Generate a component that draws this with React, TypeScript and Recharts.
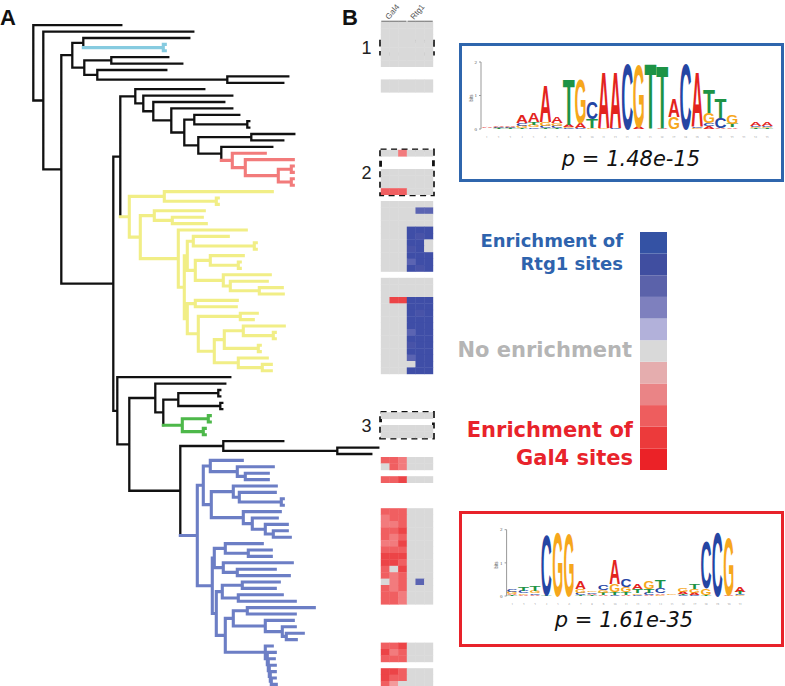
import React from "react";
import {
  LineChart,
  Line,
  XAxis,
  YAxis,
  ScatterChart,
  Scatter,
  ReferenceArea,
  ReferenceLine,
  BarChart,
  Bar,
} from "recharts";

// ---------- tree: Newick pieces, branch lengths, clade colour in the node label ----------
const cyanClade = "(:2,:2)cyan:80";
const topClade = `((:106,${cyanClade}):11,((:57,:71):27,(:69,(:61,:56):130):13):12):11`;
const redClade = "(:33,(:48,((:2,:2):13,(:2,:2):13):33):13)red:11";
const blackInner = `((:45,(:2,:2):53):10,((:43,:32):53,(:51,${redClade}):23):14):13`;
const blackClade = `(:69,(:89,(:71,(:61,${blackInner}):18):10):8):15`;
const yellowUpper = "((:35,(:2,:2):61):6,((:33,(:2,:2):28):15,(:47,(:37,(:23,:24):29):7):28):8):3";
const yellowLower = "((:42,:41):8,((:17,:13):42,(((:41,(:2,:2):30):19,(:2,:2):34):10,(:29,(:9,:9):24):24):16):11):3";
const yellowClade = `((:108,(:2,:2):52):35,((:50,(:30,:34):18):14,(:68,(${yellowUpper},${yellowLower}):6):38):11)yellow:9`;
const greenClade = "((:2,:2):26,(:2,:2):21)green:19";
const blueA = "((:32,(:36,(:23,:23):8):27):7,((:43,(:36,(:2,:2):42):6):22,(:37,(:25,(:22,(:14,:17):8):13):9):32):8):6";
const blueB1 = "((:37,(:23,:23):23):11,(:69,(:38,:52):14):9):2";
const blueB2 = "((:37,:33):20,(:44,:57):16):6";
const blueB3 = "((:67,:48):14,(:28,(:13,(:17,:10):4):17):32):8";
const blueComb = "(:7,(:8,(:6,(:6,(:5,(:4,:5):1):1):1):1):2):40";
const blueClade = `(${blueA},(${blueB1},(${blueB2},(${blueB3},${blueComb}):9):4):15)blue:17`;
const lowerClade = `(:113,((:70,(((:2,:2):40,(:2,:2):42):15,${greenClade}):8):26,((:60,(:41,:34):114):43,${blueClade}):51):12):4`;
const treeNewick = `(:88,(:150,(${topClade},((${blackClade},${yellowClade}):7,${lowerClade}):52):18):10);`;

const cladeColors: Record<string, string> = {
  black: "#111111",
  cyan: "#86cbe0",
  red: "#f27b7b",
  yellow: "#f1ee86",
  green: "#4db84a",
  blue: "#6c7ec5",
};

// ---------- heatmap: one string per leaf row, 3 Gal4 + 3 Rtg1 sub-columns ----------
const heatmapRows = [
  "gggggg", "gggggg", "gggggg", "gggggg", "gggggg", "gggggg", "gggggg", "......",
  "......", "gggggg", "gggggg", "......", "......", "......", "......", "......",
  "......", "......", "......", "......", "ggpggg", "......", "......", "gggggg",
  "gggggg", "gggggg", "rrrggg", "......", "gggggg", "ggggmm", "gggggg", "gggggg",
  "gggbbb", "gggbBb", "gggbbg", "gggBbg", "gggbbb", "gggmbb", "gggbBb", "......",
  "gggggg", "gggggg", "gggggg", "gRRbbb", "gggbbb", "gggbBb", "gggbbb", "gggbbb",
  "gggmbb", "gggbbb", "gggBbb", "gggbbb", "gggmbb", "ggggbb", "gggbbb", "......",
  "......", "......", "......", "......", "......", "gggggg", "......", "gggggg",
  "gggggg", "......", "......", "......", "rrpggg", "grpggg", "......", "rrRggg",
  "......", "......", "......", "......", "rrrggg", "prrggg", "pprggg", "rrRggg",
  "rprggg", "ppRggg", "rrrggg", "RRRggg", "RRrggg", "rgRggg", "rprggg", "gprgmg",
  "rprggg", "rrpggg", "rrpggg", "......", "......", "......", "......", "......",
  "......", "rrRggg", "Rprggg", "rrrggg", "......", "RRrggg", "Rrrggg", "rqgggg",
];
const cellColors: Record<string, string> = {
  g: "#d9d9d9",
  r: "#f05f61",
  R: "#ec4447",
  p: "#f27b7d",
  q: "#f39a9b",
  b: "#3f4ea7",
  B: "#4853a8",
  m: "#5b64b2",
};
const boxRows: [string, number, number][] = [
  ["1", 3, 4],
  ["2", 20, 26],
  ["3", 61, 64],
];

// ---------- colour scale (bottom to top) ----------
const scaleColors = [
  "#eb2227", "#ec3a3b", "#ee5d5e", "#ea8486", "#e5adae", "#d9d9d9",
  "#b2b1da", "#7e80be", "#5b62aa", "#404ea0", "#3452a4",
];

// ---------- motifs: letters per position, bottom to top, in bits ----------
const rtg1Motif: [string, number][][] = [
  [["C", 0.01], ["G", 0.01], ["A", 0.02]],
  [["T", 0.015], ["G", 0.02], ["C", 0.02], ["A", 0.02]],
  [["T", 0.015], ["G", 0.015], ["C", 0.02], ["A", 0.025]],
  [["T", 0.04], ["G", 0.06], ["C", 0.09], ["A", 0.22]],
  [["C", 0.05], ["G", 0.08], ["T", 0.09], ["A", 0.27]],
  [["T", 0.04], ["C", 0.06], ["G", 0.12], ["A", 1.1]],
  [["T", 0.04], ["C", 0.06], ["G", 0.08], ["A", 0.19]],
  [["C", 0.02], ["G", 0.03], ["A", 0.07], ["T", 1.4]],
  [["C", 0.02], ["A", 0.15], ["G", 1.35]],
  [["G", 0.03], ["T", 0.27], ["C", 0.5]],
  [["G", 0.02], ["A", 1.7]],
  [["C", 0.02], ["A", 1.7]],
  [["C", 2.0]],
  [["A", 0.06], ["G", 1.9]],
  [["T", 2.0]],
  [["A", 0.02], ["T", 1.9]],
  [["G", 0.37], ["A", 0.55]],
  [["C", 1.97]],
  [["G", 0.02], ["C", 0.05], ["A", 1.65]],
  [["A", 0.08], ["C", 0.09], ["G", 0.3], ["T", 0.7]],
  [["A", 0.03], ["C", 0.3], ["T", 0.6]],
  [["A", 0.05], ["T", 0.1], ["G", 0.29]],
  [["G", 0.01], ["A", 0.01]],
  [["T", 0.02], ["G", 0.03], ["C", 0.05], ["A", 0.1]],
  [["T", 0.02], ["G", 0.03], ["C", 0.05], ["A", 0.12]],
];
const gal4Motif: [string, number][][] = [
  [["T", 0.03], ["A", 0.04], ["G", 0.06], ["C", 0.08]],
  [["A", 0.03], ["G", 0.05], ["C", 0.08], ["T", 0.13]],
  [["A", 0.03], ["C", 0.05], ["G", 0.08], ["T", 0.14]],
  [["T", 0.02], ["C", 1.85]],
  [["G", 1.95]],
  [["G", 1.93]],
  [["T", 0.04], ["C", 0.06], ["G", 0.12], ["A", 0.25]],
  [["T", 0.03], ["A", 0.04], ["C", 0.05], ["G", 0.05]],
  [["A", 0.04], ["T", 0.06], ["G", 0.08], ["C", 0.15]],
  [["C", 0.04], ["T", 0.08], ["G", 0.25], ["A", 0.75]],
  [["A", 0.04], ["T", 0.08], ["G", 0.15], ["C", 0.22]],
  [["C", 0.04], ["G", 0.05], ["T", 0.12], ["A", 0.15]],
  [["A", 0.04], ["C", 0.06], ["T", 0.12], ["G", 0.25]],
  [["G", 0.04], ["A", 0.05], ["C", 0.15], ["T", 0.25]],
  [["C", 0.01], ["T", 0.01], ["A", 0.01], ["G", 0.02]],
  [["C", 0.03], ["T", 0.04], ["A", 0.06], ["G", 0.13]],
  [["C", 0.04], ["A", 0.06], ["G", 0.12], ["T", 0.16]],
  [["T", 0.03], ["G", 0.2], ["C", 1.45]],
  [["C", 1.98]],
  [["A", 0.03], ["G", 1.75]],
  [["G", 0.03], ["C", 0.04], ["T", 0.06], ["A", 0.14]],
];
const letterColors: Record<string, string> = { A: "#e3241e", C: "#2545a3", G: "#f6a71c", T: "#1d9345" };

// ---------- geometry ----------
const ROW0 = 25.2; // centre of first leaf row, px
const ROW_H = 6.4;
const PAGE_H = 686;
const rowDomain: [number, number] = [-ROW0 / ROW_H, (PAGE_H - ROW0) / ROW_H];
const HM_X0 = 381;
const COL_W = 52 / 6;
const HM_LEFT = 355;
const HM_W = 86;

const SANS = "'Liberation Sans', Arial, sans-serif";
const DEJA = "'DejaVu Sans', sans-serif";

type TNode = { children: TNode[]; len: number; label: string; depth: number; y: number; color: string };

function parseNewick(s: string): TNode {
  let i = 0;
  const read = (): TNode => {
    const n: TNode = { children: [], len: 0, label: "", depth: 0, y: 0, color: "black" };
    if (s[i] === "(") {
      i++;
      n.children.push(read());
      while (s[i] === ",") {
        i++;
        n.children.push(read());
      }
      i++;
    }
    while (i < s.length && /[a-z]/i.test(s[i])) n.label += s[i++];
    if (s[i] === ":") {
      i++;
      let num = "";
      while (i < s.length && /[0-9.]/.test(s[i])) num += s[i++];
      n.len = parseFloat(num);
    }
    return n;
  };
  return read();
}

function buildTree() {
  const root = parseNewick(treeNewick);
  let leaf = 0;
  const place = (n: TNode, depth: number, color: string) => {
    n.depth = depth + n.len;
    n.color = n.label && cladeColors[n.label] ? n.label : color;
    n.children.forEach((c) => place(c, n.depth, n.color));
    if (n.children.length === 0) n.y = leaf++;
    else n.y = (n.children[0].y + n.children[n.children.length - 1].y) / 2;
  };
  place(root, 0, "black");
  const groups: Record<string, { x: number; y: number | null }[]> = {};
  const seg = (c: string, x1: number, y1: number, x2: number, y2: number) => {
    (groups[c] ||= []).push({ x: x1, y: y1 }, { x: x2, y: y2 }, { x: x2, y: null });
  };
  const walk = (n: TNode, parentDepth: number | null) => {
    if (parentDepth !== null) seg(n.color, parentDepth, n.y, n.depth, n.y);
    if (n.children.length) {
      seg(n.color, n.depth, n.children[0].y, n.depth, n.children[n.children.length - 1].y);
      n.children.forEach((c) => walk(c, n.depth));
    }
  };
  walk(root, null);
  return groups;
}

const treeGroups = buildTree();

const heatCells = heatmapRows.flatMap((row, r) =>
  row
    .split("")
    .map((ch, c) => ({ x: c + 0.5, y: r, fill: cellColors[ch] }))
    .filter((d) => d.fill)
);

function logoData(motif: [string, number][][]) {
  return motif.map((stack, i) => {
    const row: Record<string, string | number> = { pos: String(i + 1) };
    for (let k = 0; k < 4; k++) {
      row["h" + k] = stack[k] ? stack[k][1] : 0;
      row["l" + k] = stack[k] ? stack[k][0] : "";
    }
    return row;
  });
}
const rtg1Data = logoData(rtg1Motif);
const gal4Data = logoData(gal4Motif);

const letterShape = (slot: number) => (props: any) => {
  const { x, y, width, height, payload } = props;
  const letter = payload ? payload["l" + slot] : "";
  if (!letter || !(height > 0.25)) return <g />;
  const fs = 20;
  return (
    <text
      x={0}
      y={0}
      fontSize={fs}
      fontWeight={700}
      fontFamily={SANS}
      fill={letterColors[letter]}
      textLength={width}
      lengthAdjust="spacingAndGlyphs"
      transform={`translate(${x},${y + height}) scale(1,${height / (0.716 * fs)})`}
    >
      {letter}
    </text>
  );
};

function Logo({ data, width, margin }: { data: any[]; width: number; margin: any }) {
  return (
    <BarChart width={width} height={82} data={data} margin={margin} barCategoryGap={0} barGap={0}>
      <XAxis
        dataKey="pos"
        interval={0}
        tick={{ fontSize: 3, fill: "#888" }}
        tickLine={false}
        axisLine={false}
        height={6}
      />
      <YAxis
        domain={[0, 2]}
        ticks={[0, 1, 2]}
        width={8}
        tick={{ fontSize: 5, fill: "#555" }}
        tickSize={2}
        stroke="#999"
      />
      {[0, 1, 2, 3].map((k) => (
        <Bar key={k} dataKey={"h" + k} stackId="s" shape={letterShape(k)} isAnimationActive={false} />
      ))}
    </BarChart>
  );
}

const abs = (left: number, top: number): React.CSSProperties => ({ position: "absolute", left, top });

export default function App() {
  const treeOrder = ["black", "cyan", "red", "yellow", "green", "blue"];
  return (
    <div style={{ position: "relative", width: 785, height: 686, background: "#fff", overflow: "hidden" }}>
      <style>{"body{margin:0}"}</style>

      <div style={abs(0, 0)}>
        <LineChart width={400} height={PAGE_H} margin={{ top: 0, right: 0, bottom: 0, left: 0 }}>
          <XAxis dataKey="x" type="number" domain={[-33.3, 366.7]} allowDataOverflow hide />
          <YAxis type="number" domain={rowDomain} allowDataOverflow reversed hide />
          {treeOrder
            .filter((c) => treeGroups[c])
            .map((c) => (
              <Line
                key={c}
                data={treeGroups[c]}
                dataKey="y"
                stroke={cladeColors[c]}
                strokeWidth={c === "black" ? 2.3 : 3.1}
                strokeLinecap="square"
                dot={false}
                activeDot={false}
                connectNulls={false}
                isAnimationActive={false}
                type="linear"
              />
            ))}
        </LineChart>
      </div>

      <div style={abs(HM_LEFT, 0)}>
        <ScatterChart width={HM_W} height={PAGE_H} margin={{ top: 0, right: 0, bottom: 0, left: 0 }}>
          <XAxis
            dataKey="x"
            type="number"
            domain={[(HM_LEFT - HM_X0) / COL_W, (HM_LEFT + HM_W - HM_X0) / COL_W]}
            allowDataOverflow
            hide
          />
          <YAxis dataKey="y" type="number" domain={rowDomain} allowDataOverflow reversed hide />
          <Scatter
            data={heatCells}
            isAnimationActive={false}
            shape={(p: any) => (
              <rect
                x={p.cx - COL_W / 2 - 0.2}
                y={p.cy - ROW_H / 2 - 0.2}
                width={COL_W + 0.4}
                height={ROW_H + 0.4}
                fill={p.payload.fill}
              />
            )}
          />
          <ReferenceLine
            segment={[{ x: 0.03, y: -0.55 }, { x: 2.94, y: -0.55 }]}
            stroke="#7a7a7a"
            strokeWidth={2}
          />
          <ReferenceLine
            segment={[{ x: 3.06, y: -0.55 }, { x: 5.97, y: -0.55 }]}
            stroke="#7a7a7a"
            strokeWidth={2}
          />
          {boxRows.map(([lab, r1, r2]) => (
            <ReferenceArea
              key={lab}
              x1={-0.05}
              x2={6.05}
              y1={r1 - 0.5}
              y2={r2 + 0.5}
              fill="none"
              fillOpacity={0}
              stroke="#111"
              strokeWidth={2.8}
              strokeDasharray="6 4.5"
              label={{ value: lab, position: "left", offset: 9, fontSize: 18, fill: "#222", fontFamily: SANS }}
            />
          ))}
        </ScatterChart>
      </div>

      <div
        style={{
          ...abs(459, 43),
          width: 325,
          height: 139,
          boxSizing: "border-box",
          border: "3px solid #2f66ad",
        }}
      />
      <div
        style={{
          ...abs(459, 511),
          width: 325,
          height: 136,
          boxSizing: "border-box",
          border: "3px solid #e8222a",
        }}
      />

      <div style={abs(466, 56)}>
        <Logo data={rtg1Data} width={311} margin={{ top: 6, right: 4, bottom: 3, left: 7 }} />
      </div>
      <div style={abs(491, 523)}>
        <Logo data={gal4Data} width={258} margin={{ top: 6.7, right: 3, bottom: 3, left: 7.6 }} />
      </div>

      <div style={abs(640, 232)}>
        <BarChart
          width={27}
          height={238}
          data={[{ k: "scale", ...Object.fromEntries(scaleColors.map((_, i) => ["c" + i, 1])) }]}
          margin={{ top: 0, right: 0, bottom: 0, left: 0 }}
          barCategoryGap={0}
        >
          <XAxis dataKey="k" hide />
          <YAxis domain={[0, scaleColors.length]} hide />
          {scaleColors.map((c, i) => (
            <Bar key={i} dataKey={"c" + i} stackId="a" fill={c} isAnimationActive={false} />
          ))}
        </BarChart>
      </div>

      <svg width={785} height={686} style={{ ...abs(0, 0), pointerEvents: "none" }}>
        <text x={0} y={25} fontSize={22} fontWeight={700} fontFamily={SANS} fill="#111">A</text>
        <text x={342} y={25} fontSize={22} fontWeight={700} fontFamily={SANS} fill="#111">B</text>
        <text transform="translate(389,20) rotate(-50)" fontSize={8} fontFamily={SANS} fill="#555">Gal4</text>
        <text transform="translate(414,20) rotate(-50)" fontSize={8} fontFamily={SANS} fill="#555">Rtg1</text>

        <text transform="translate(473,98) rotate(-90)" fontSize={4.5} fontFamily={SANS} fill="#555" textAnchor="middle">bits</text>
        <text transform="translate(498,565) rotate(-90)" fontSize={4.5} fontFamily={SANS} fill="#555" textAnchor="middle">bits</text>

        <text x={631} y={166} fontSize={21} fontStyle="italic" fontFamily={DEJA} textAnchor="middle" fill="#111">p = 1.48e-15</text>
        <text x={624} y={627} fontSize={21} fontStyle="italic" fontFamily={DEJA} textAnchor="middle" fill="#111">p = 1.61e-35</text>

        <g fontFamily={DEJA} fontWeight={700} textAnchor="end">
          <text x={623} y={247} fontSize={18} fill="#2e63ad">Enrichment of</text>
          <text x={623} y={270} fontSize={18} fill="#2e63ad">Rtg1 sites</text>
          <text x={632} y={357} fontSize={21} fill="#b5b5b5">No enrichment</text>
          <text x={633} y={437} fontSize={21} fill="#e8232b">Enrichment of</text>
          <text x={633} y={465} fontSize={21} fill="#e8232b">Gal4 sites</text>
        </g>
      </svg>
    </div>
  );
}
